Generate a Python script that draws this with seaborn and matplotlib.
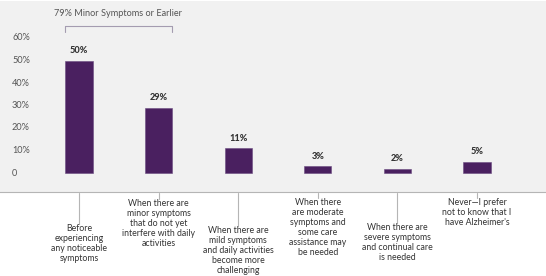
import matplotlib
matplotlib.use("Agg")
import matplotlib.pyplot as plt
import matplotlib.transforms as mtransforms
import seaborn as sns
import pandas as pd

# data
categories = [
    "Before\nexperiencing\nany noticeable\nsymptoms",
    "When there are\nminor symptoms\nthat do not yet\ninterfere with daily\nactivities",
    "When there are\nmild symptoms\nand daily activities\nbecome more\nchallenging",
    "When there\nare moderate\nsymptoms and\nsome care\nassistance may\nbe needed",
    "When there are\nsevere symptoms\nand continual care\nis needed",
    "Never\u2014I prefer\nnot to know that I\nhave Alzheimer's",
]
values = [50, 29, 11, 3, 2, 5]
value_labels = ["50%", "29%", "11%", "3%", "2%", "5%"]
ytick_values = [0, 10, 20, 30, 40, 50, 60]
ytick_labels = ["0", "10%", "20%", "30%", "40%", "50%", "60%"]
bracket_text = "79% Minor Symptoms or Earlier"

# label placement (pixel rows where each category label starts)
label_tops = [224, 199, 226, 198, 223, 198]

W, H = 546, 276
BAR = "#4a2060"
BG = "#f1f1f1"

sns.set_theme(style="white")
plt.rcParams["font.family"] = ["Lato", "DejaVu Sans"]

fig = plt.figure(figsize=(W / 100, H / 100), dpi=100)
fig.patch.set_facecolor("white")

ax_bottom_px, ax_top_px = 192, 1
ax = fig.add_axes([0, (H - ax_bottom_px) / H, 1, (ax_bottom_px - ax_top_px) / H])
ax.set_facecolor(BG)

df = pd.DataFrame({"cat": range(len(values)), "val": values})
sns.barplot(data=df, x="cat", y="val", color=BAR, width=0.34, saturation=1,
            edgecolor="#6a4a80", linewidth=0.4, ax=ax)

# axis mapping: bars at 79 + 79.6*i px, zero at row 173, 60% at row 38
ax_h = ax_bottom_px - ax_top_px
ppu = (173 - 38) / 60
ax.set_ylim(-(ax_bottom_px - 173) / ppu, 60 + (38 - ax_top_px) / ppu)
ax.set_xlim(-79 / 79.6, (W - 79) / 79.6)
ax.set_xticks([])
ax.set_yticks([])
ax.set_xlabel("")
ax.set_ylabel("")
for s in ["top", "left", "right"]:
    ax.spines[s].set_visible(False)
ax.spines["bottom"].set_color("#b5b5b5")
ax.spines["bottom"].set_linewidth(0.8)


def ay(py):
    return (ax_bottom_px - py) / ax_h


blend = mtransforms.blended_transform_factory(ax.transData, ax.transAxes)
blend_y = mtransforms.blended_transform_factory(ax.transAxes, ax.transData)

# y tick labels inside the panel
for v, t in zip(ytick_values, ytick_labels):
    ax.text(12 / W, v, t, transform=blend_y, ha="left", va="center",
            fontsize=6.6, color="#555555")

# value labels
for i, (v, t) in enumerate(zip(values, value_labels)):
    ax.annotate(t, (i, v), xytext=(0, 4), textcoords="offset points",
                ha="center", va="bottom", fontsize=6.6, fontweight="black",
                color="#333333")

# category labels with leader lines
for i, (c, top) in enumerate(zip(categories, label_tops)):
    ax.plot([i, i], [ay(193), ay(top)], transform=blend, color="#b5b5b5",
            lw=0.8, clip_on=False)
    ax.text(i, ay(top), c, transform=blend, ha="center", va="top",
            fontsize=6.3, color="#333333", linespacing=1.15)

# bracket over first two bars
bx0, bx1 = (65 - 79) / 79.6, (172 - 79) / 79.6
ax.plot([bx0, bx0, bx1, bx1], [ay(32), ay(26), ay(26), ay(32)], transform=blend,
        color="#a49cb0", lw=0.8, clip_on=False)
ax.text((bx0 + bx1) / 2, ay(14), bracket_text, transform=blend, ha="center",
        va="center", fontsize=6.6, color="#555555")

fig.savefig("out.png", dpi=100)
